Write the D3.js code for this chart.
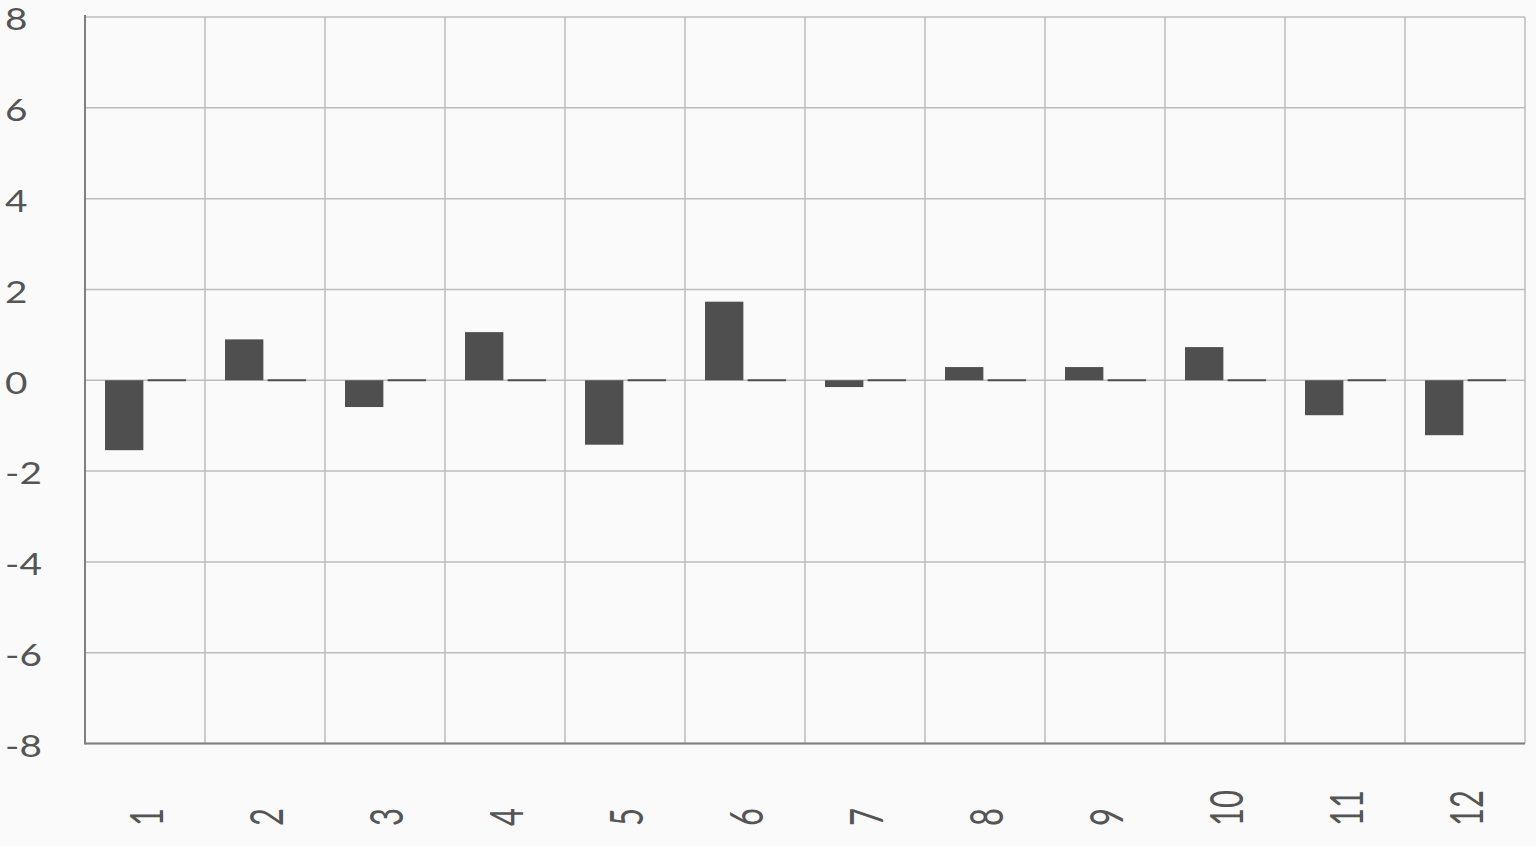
<!DOCTYPE html>
<html>
<head>
<meta charset="utf-8">
<script src="https://cdn.jsdelivr.net/npm/d3@7"></script>
<style>
  html, body { margin: 0; padding: 0; background: #fafafa; }
  svg { display: block; }
</style>
</head>
<body>
<svg id="chart" width="1536" height="846"></svg>
<script>
const categories = ["1","2","3","4","5","6","7","8","9","10","11","12"];
const series1 = [-1.54, 0.90, -0.59, 1.06, -1.42, 1.73, -0.15, 0.29, 0.29, 0.73, -0.77, -1.21];
const series2 = [0, 0, 0, 0, 0, 0, 0, 0, 0, 0, 0, 0];
const yTicks = [-8, -6, -4, -2, 0, 2, 4, 6, 8];
const seriesNames = ["s1", "s2"];

const svg = d3.select("#chart");
const plotL = 85, plotR = 1525, plotT = 17, plotB = 743.5;

const x = d3.scaleBand().domain(categories).range([plotL, plotR]).padding(0);
const xs = d3.scaleBand().domain(seriesNames).range([20, 101]).paddingInner(0.1).paddingOuter(0);
const y = d3.scaleLinear().domain([-8, 8]).range([plotB, plotT]);

svg.append("rect").attr("width", 1536).attr("height", 846).attr("fill", "#fafafa");

// horizontal grid
svg.append("g").selectAll("line").data(yTicks).join("line")
  .attr("x1", plotL).attr("x2", plotR)
  .attr("y1", d => y(d)).attr("y2", d => y(d))
  .attr("stroke", "#bdbdbd").attr("stroke-width", 1.5);

// vertical grid at category boundaries
const bounds = categories.map(c => x(c)).concat([x(categories[categories.length - 1]) + x.bandwidth()]);
svg.append("g").selectAll("line").data(bounds).join("line")
  .attr("x1", d => d).attr("x2", d => d)
  .attr("y1", plotT).attr("y2", plotB)
  .attr("stroke", "#bdbdbd").attr("stroke-width", 1.5);

// axes lines
svg.append("line").attr("x1", plotL).attr("x2", plotL).attr("y1", plotT - 2).attr("y2", plotB + 1)
  .attr("stroke", "#808080").attr("stroke-width", 2);
svg.append("line").attr("x1", plotL).attr("x2", plotR).attr("y1", plotB).attr("y2", plotB)
  .attr("stroke", "#808080").attr("stroke-width", 2);

// bars (zero values still show as a thin bar at the baseline)
const minH = 2;
const data = categories.map((c, i) => ({ c, vals: [series1[i], series2[i]] }));
const g = svg.append("g").selectAll("g").data(data).join("g")
  .attr("transform", d => `translate(${x(d.c)},0)`);
g.selectAll("rect").data(d => d.vals.map((v, j) => ({ k: seriesNames[j], v }))).join("rect")
  .attr("x", d => xs(d.k))
  .attr("width", xs.bandwidth())
  .attr("y", d => {
    const h = Math.abs(y(d.v) - y(0));
    return h < minH ? y(0) - minH / 2 : y(Math.max(0, d.v));
  })
  .attr("height", d => Math.max(minH, Math.abs(y(d.v) - y(0))))
  .attr("fill", "#4f4f4f");

// y labels
svg.append("g").selectAll("text").data(yTicks).join("text")
  .attr("transform", d => `translate(5,${y(d) + 1}) scale(1.25,1)`)
  .attr("text-anchor", "start")
  .attr("dominant-baseline", "central")
  .attr("font-family", "Lato, 'DejaVu Sans', sans-serif")
  .attr("font-weight", 400)
  .attr("font-size", 31)
  .attr("fill", "#555")
  .text(d => d);

// x labels
svg.append("g").selectAll("text").data(categories).join("text")
  .attr("transform", d => `translate(${x(d) + x.bandwidth() / 2},826) scale(1.5,1) rotate(-90)`)
  .attr("text-anchor", "start")
  .attr("dominant-baseline", "central")
  .attr("font-family", "Lato, 'DejaVu Sans', sans-serif")
  .attr("font-weight", 400)
  .attr("font-size", 31)
  .attr("fill", "#555")
  .text(d => d);
</script>
</body>
</html>
